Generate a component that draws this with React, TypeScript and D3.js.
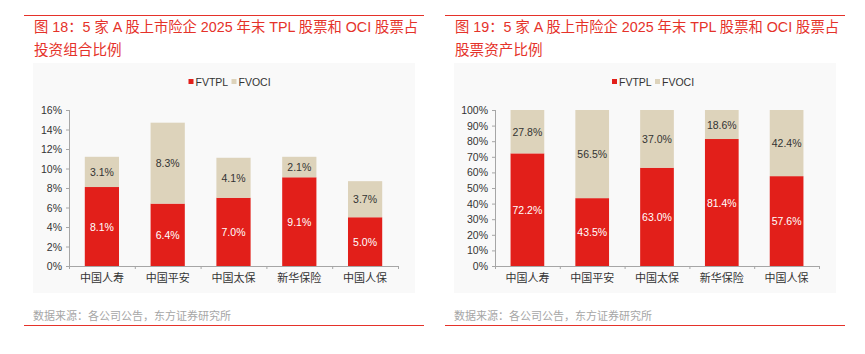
import { useEffect } from "react";
import * as d3 from "d3";

const companies = ["中国人寿", "中国平安", "中国太保", "新华保险", "中国人保"];

// 图18: share of investment portfolio (%)
const portfolioTPL = [8.1, 6.4, 7.0, 9.1, 5.0];
const portfolioOCI = [3.1, 8.3, 4.1, 2.1, 3.7];
const portfolioTicks = [0, 2, 4, 6, 8, 10, 12, 14, 16];

// 图19: share of equity assets (%)
const equityTPL = [72.2, 43.5, 63.0, 81.4, 57.6];
const equityOCI = [27.8, 56.5, 37.0, 18.6, 42.4];
const equityTicks = [0, 10, 20, 30, 40, 50, 60, 70, 80, 90, 100];

const seriesNames = ["FVTPL", "FVOCI"];

const RED = "#e21f1a";
const BEIGE = "#ddd3bb";
const TITLE_RED = "#e5322a";
const FONT = "'Liberation Sans', Arial, 'Noto Sans CJK SC', sans-serif";
const CJK = "'Noto Sans CJK SC', 'Liberation Sans', sans-serif";

type PanelProps = {
  left: number; // x offset of the panel
  title1: string;
  title2: string;
  tpl: number[];
  oci: number[];
  ticks: number[];
  yMax: number;
  axisX: number; // relative
  axisEnd: number; // relative
};

const Panel = ({ left, title1, title2, tpl, oci, ticks, yMax, axisX, axisEnd }: PanelProps) => {
  const y = d3.scaleLinear().domain([0, yMax]).range([266, 110]);
  const x = d3.scaleBand<string>().domain(companies).range([axisX, axisEnd]).paddingInner(0.48).paddingOuter(0.24);
  const step = (axisEnd - axisX) / companies.length;
  const tickBounds = d3.range(companies.length + 1).map((i) => axisX + i * step);

  const legendX = (axisX + axisEnd) / 2 - 45;

  return (
    <g transform={`translate(${left},0)`}>
      <line x1={0} x2={400} y1={15.5} y2={15.5} stroke={TITLE_RED} strokeWidth={1} />
      <text x={10} y={32} fontFamily={FONT} fontSize={14.3} fill={TITLE_RED}>{title1}</text>
      <text x={10} y={55} fontFamily={CJK} fontSize={14.6} fill={TITLE_RED}>{title2}</text>
      <rect x={9} y={63} width={382} height={230} fill="#f9f9f9" />

      {/* legend */}
      {seriesNames.map((s, i) => (
        <g key={s} transform={`translate(${legendX + i * 43},82)`}>
          <rect x={0} y={-3} width={5} height={5} fill={i === 0 ? RED : BEIGE} />
          <text x={7} y={3.5} fontFamily={FONT} fontSize={10.5} fill="#333">{s}</text>
        </g>
      ))}

      {/* y axis */}
      <line x1={axisX + 0.5} x2={axisX + 0.5} y1={y(yMax)} y2={y(0)} stroke="#a6a6a6" />
      {ticks.map((t) => (
        <g key={t}>
          <line x1={axisX - 3} x2={axisX} y1={y(t) + 0.5} y2={y(t) + 0.5} stroke="#a6a6a6" />
          <text x={axisX - 7} y={y(t) + 4} textAnchor="end" fontFamily={FONT} fontSize={10.5} fill="#333">{t}%</text>
        </g>
      ))}

      {/* bars */}
      {companies.map((c, i) => {
        const bx = x(c) ?? 0;
        const bw = x.bandwidth();
        const total = tpl[i] + oci[i];
        return (
          <g key={c}>
            <rect x={bx} y={y(tpl[i])} width={bw} height={y(0) - y(tpl[i])} fill={RED} />
            <rect x={bx} y={y(total)} width={bw} height={y(tpl[i]) - y(total)} fill={BEIGE} />
            <text x={bx + bw / 2} y={(y(0) + y(tpl[i])) / 2 + 4} textAnchor="middle" fontFamily={FONT} fontSize={10.5} fill="#fff">{tpl[i].toFixed(1)}%</text>
            <text x={bx + bw / 2} y={(y(tpl[i]) + y(total)) / 2 + 4} textAnchor="middle" fontFamily={FONT} fontSize={10.5} fill="#333">{oci[i].toFixed(1)}%</text>
            <text x={bx + bw / 2} y={282} textAnchor="middle" fontFamily={CJK} fontSize={11} fill="#333">{c}</text>
          </g>
        );
      })}

      {/* x axis */}
      <line x1={axisX} x2={axisEnd} y1={266.5} y2={266.5} stroke="#a6a6a6" />
      {tickBounds.map((tx, i) => (
        <line key={i} x1={tx + 0.5} x2={tx + 0.5} y1={266} y2={269} stroke="#a6a6a6" />
      ))}

      <text x={9} y={320} fontFamily={CJK} fontSize={11} fill="#a6a6a6">数据来源：各公司公告，东方证券研究所</text>
      <line x1={0} x2={400} y1={325.5} y2={325.5} stroke={TITLE_RED} strokeWidth={1} />
    </g>
  );
};

export default function App() {
  useEffect(() => {
    document.body.style.margin = "0";
    document.body.style.background = "#fff";
  }, []);
  return (
    <svg width={865} height={354} style={{ display: "block" }}>
      <rect width={865} height={354} fill="#fff" />
      <Panel
        left={24}
        title1="图 18：5 家 A 股上市险企 2025 年末 TPL 股票和 OCI 股票占"
        title2="投资组合比例"
        tpl={portfolioTPL}
        oci={portfolioOCI}
        ticks={portfolioTicks}
        yMax={16}
        axisX={45}
        axisEnd={374}
      />
      <Panel
        left={445}
        title1="图 19：5 家 A 股上市险企 2025 年末 TPL 股票和 OCI 股票占"
        title2="股票资产比例"
        tpl={equityTPL}
        oci={equityOCI}
        ticks={equityTicks}
        yMax={100}
        axisX={50}
        axisEnd={374}
      />
    </svg>
  );
}
